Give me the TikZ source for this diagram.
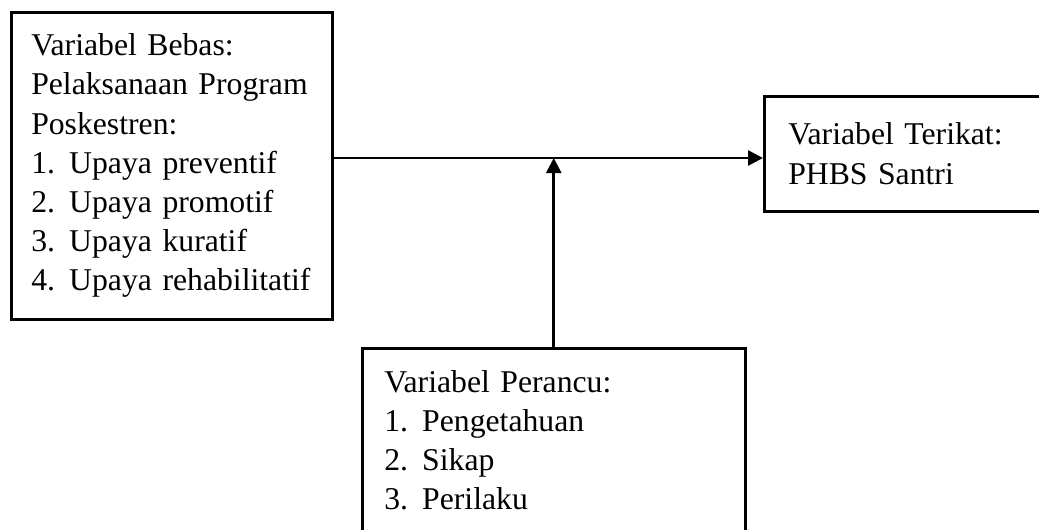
\documentclass[tikz,border=0pt]{standalone}
\usepackage{fontspec}
\setmainfont{Liberation Serif}
\usepackage{tikz}
\usetikzlibrary{positioning, arrows.meta}
\newcommand{\itm}[2]{\makebox[19pt][l]{#1}#2}

\begin{document}
\begin{tikzpicture}[
    x=0.5pt, y=-0.5pt,
    varbox/.style={rectangle, draw, line width=1.25pt, anchor=north west,
                   align=left, inner ysep=0pt,
                   font=\fontsize{15.85pt}{19.6pt}\selectfont},
    arrow/.style={-{Triangle[length=7.5pt, width=7.5pt]}, line width=1.3pt},
]
    \useasboundingbox (0,0) rectangle (1039,530);

    % Variable boxes
    \node[varbox, inner xsep=10pt, text width=140.5pt, minimum height=153.5pt] (bebas) at (10,11)
        {Variabel Bebas:\\Pelaksanaan Program\\Poskestren:\\
         \itm{1.}{Upaya preventif}\\\itm{2.}{Upaya promotif}\\
         \itm{3.}{Upaya kuratif}\\\itm{4.}{Upaya rehabilitatif}};
    \node[varbox, inner xsep=12pt, text width=124.5pt, minimum height=57.5pt] (terikat) at (763,95)
        {Variabel Terikat:\\PHBS Santri};
    \node[varbox, inner xsep=11pt, text width=169.5pt, minimum height=92pt] (perancu) at (361,347)
        {Variabel Perancu:\\\itm{1.}{Pengetahuan}\\\itm{2.}{Sikap}\\\itm{3.}{Perilaku}};

    % Arrows
    \coordinate (lvl) at (0,158);
    \draw[arrow] (bebas.east |- lvl) -- (terikat.west |- lvl);
    \draw[arrow] (perancu.north) -- (perancu.north |- lvl);
\end{tikzpicture}
\end{document}
